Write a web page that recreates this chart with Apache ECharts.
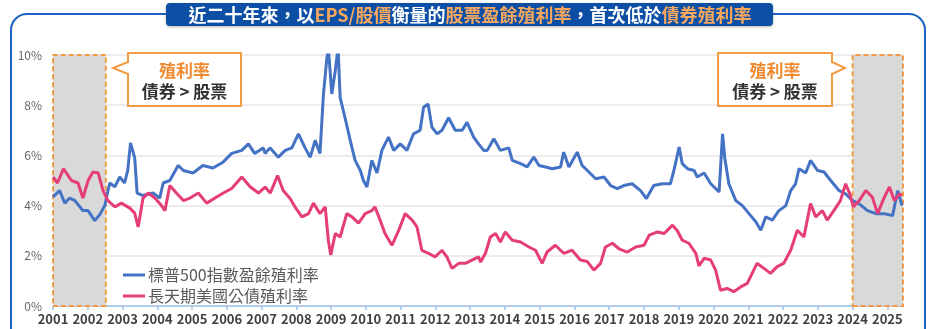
<!DOCTYPE html>
<html>
<head>
<meta charset="utf-8">
<script src="https://cdn.jsdelivr.net/npm/echarts@6/dist/echarts.min.js"></script>
<style>
html,body{margin:0;padding:0;background:#fff;}
#chart{width:936px;height:329px;}
</style>
</head>
<body>
<div id="chart"></div>
<script>
// ---- data ----
var yearTicks = [2001,2002,2003,2004,2005,2006,2007,2008,2009,2010,2011,2012,2013,2014,2015,2016,2017,2018,2019,2020,2021,2022,2023,2024,2025];
var yTicks = [0,2,4,6,8,10];

var epsName = '標普500指數盈餘殖利率';
var bondName = '長天期美國公債殖利率';

var epsDates = [2001.00,2001.19,2001.34,2001.48,2001.63,2001.86,2002.01,2002.20,2002.35,2002.49,2002.63,2002.78,2002.92,2003.06,2003.15,2003.23,2003.35,2003.42,2003.59,2003.88,2004.07,2004.17,2004.36,2004.60,2004.75,2005.03,2005.31,2005.60,2005.89,2006.14,2006.43,2006.62,2006.80,2007.05,2007.10,2007.24,2007.48,2007.68,2007.87,2008.06,2008.25,2008.40,2008.54,2008.68,2008.78,2008.87,2008.92,2009.02,2009.12,2009.20,2009.26,2009.40,2009.55,2009.69,2009.84,2009.93,2010.03,2010.17,2010.32,2010.46,2010.65,2010.80,2010.99,2011.18,2011.37,2011.56,2011.66,2011.79,2011.90,2012.05,2012.19,2012.38,2012.57,2012.77,2012.91,2013.10,2013.24,2013.39,2013.49,2013.68,2013.87,2014.11,2014.21,2014.45,2014.64,2014.83,2014.98,2015.17,2015.36,2015.60,2015.69,2015.84,2016.08,2016.22,2016.37,2016.61,2016.85,2017.04,2017.23,2017.42,2017.66,2017.90,2018.07,2018.28,2018.52,2018.76,2018.86,2019.01,2019.10,2019.25,2019.44,2019.53,2019.73,2019.92,2020.16,2020.26,2020.32,2020.44,2020.64,2020.83,2021.02,2021.22,2021.36,2021.50,2021.69,2021.88,2022.08,2022.22,2022.36,2022.46,2022.65,2022.79,2022.99,2023.18,2023.37,2023.61,2023.80,2024.00,2024.19,2024.43,2024.67,2024.91,2025.15,2025.30,2025.42];
var epsYield = [4.35,4.6,4.1,4.3,4.2,3.8,3.8,3.4,3.65,4.0,4.9,4.75,5.14,4.9,5.4,6.5,5.9,4.5,4.4,4.5,4.3,4.9,5.0,5.6,5.4,5.3,5.6,5.5,5.73,6.08,6.2,6.46,6.08,6.3,6.08,6.3,5.93,6.2,6.3,6.86,6.3,5.93,6.6,6.08,8.45,9.77,10.3,8.45,9.38,10.3,8.3,7.5,6.6,5.8,5.4,5.0,4.74,5.8,5.3,6.2,6.73,6.2,6.46,6.2,6.86,7.0,7.92,8.05,7.12,6.86,7.0,7.5,7.0,7.0,7.32,6.73,6.46,6.2,6.2,6.66,6.2,6.3,5.8,5.67,5.54,5.93,5.6,5.54,5.47,5.54,6.13,5.54,6.13,5.6,5.4,5.07,5.14,4.8,4.68,4.8,4.87,4.6,4.28,4.8,4.87,4.87,5.4,6.33,5.67,5.47,5.4,5.14,5.3,4.87,4.54,6.86,5.93,4.87,4.2,4.0,3.68,3.35,3.02,3.55,3.42,3.8,4.0,4.6,4.87,5.47,5.3,5.8,5.4,5.34,5.0,4.6,4.47,4.2,4.07,3.8,3.68,3.68,3.6,4.6,4.0];

var bondDates = [2001.00,2001.13,2001.30,2001.53,2001.72,2001.86,2002.01,2002.15,2002.30,2002.44,2002.58,2002.78,2002.97,2003.21,2003.35,2003.45,2003.59,2003.74,2003.93,2004.12,2004.22,2004.36,2004.55,2004.75,2004.94,2005.18,2005.42,2005.66,2005.90,2006.14,2006.43,2006.67,2006.91,2007.10,2007.25,2007.46,2007.62,2007.82,2007.96,2008.16,2008.35,2008.49,2008.68,2008.83,2008.92,2008.99,2009.12,2009.26,2009.45,2009.60,2009.79,2009.98,2010.17,2010.26,2010.41,2010.55,2010.75,2010.94,2011.13,2011.33,2011.47,2011.61,2011.80,2011.99,2012.19,2012.33,2012.48,2012.67,2012.86,2013.05,2013.24,2013.30,2013.44,2013.58,2013.73,2013.87,2014.01,2014.21,2014.45,2014.69,2014.88,2015.07,2015.21,2015.45,2015.69,2015.93,2016.17,2016.37,2016.56,2016.75,2016.89,2017.09,2017.28,2017.52,2017.76,2018.00,2018.15,2018.39,2018.58,2018.82,2018.96,2019.10,2019.29,2019.49,2019.58,2019.73,2019.92,2020.06,2020.20,2020.39,2020.58,2020.78,2020.97,2021.11,2021.25,2021.45,2021.64,2021.83,2022.02,2022.22,2022.41,2022.60,2022.79,2022.94,2023.13,2023.27,2023.46,2023.65,2023.80,2023.92,2024.02,2024.19,2024.38,2024.57,2024.72,2024.91,2025.06,2025.20,2025.35,2025.42];
var bondYield = [5.14,4.9,5.47,5.0,4.9,4.3,5.0,5.34,5.3,4.6,4.2,3.95,4.1,3.9,3.7,3.15,4.3,4.5,4.3,4.0,3.8,4.8,4.5,4.2,4.3,4.5,4.1,4.3,4.5,4.68,5.14,4.75,4.5,4.74,4.5,5.2,4.6,4.28,3.95,3.55,3.68,4.1,3.68,3.95,2.62,2.03,2.89,2.75,3.68,3.55,3.3,3.68,3.8,3.95,3.42,2.89,2.42,3.0,3.68,3.42,3.15,2.22,2.1,1.96,2.22,1.96,1.5,1.7,1.7,1.83,1.96,1.75,2.1,2.75,2.89,2.55,2.95,2.62,2.55,2.35,2.22,1.7,2.15,2.42,2.1,2.22,1.83,1.77,1.43,1.7,2.35,2.5,2.28,2.15,2.35,2.42,2.82,2.95,2.89,3.22,3.0,2.62,2.5,2.1,1.6,1.9,1.83,1.43,0.63,0.7,0.57,0.76,0.9,1.3,1.7,1.5,1.3,1.57,1.7,2.22,3.02,2.75,4.08,3.55,3.8,3.42,3.8,4.2,4.87,4.47,3.95,4.2,4.6,4.33,3.68,4.33,4.74,4.2,4.47,4.4];

// shaded periods where bond yield > earnings yield
var shadeStart = [2001.0, 2024.0];
var shadeEnd = [2002.52, 2025.45];

var xMin = 2001, xMax = 2025.45;

// ---- build ----
function pairs(xs, ys){ return xs.map(function(x,i){ return [x, ys[i]]; }); }

var chart = echarts.init(document.getElementById('chart'), null, {renderer:'canvas'});
var FONT = '"Noto Sans CJK TC", "Noto Sans", sans-serif';
var ORANGE = '#F39A45';

function callout(pts, cx){
  return [
    {type:'polygon', z:50, shape:{points:pts}, style:{fill:'#fff', stroke:ORANGE, lineWidth:2}},
    {type:'text', z:51, x:cx, y:71, style:{text:'殖利率', fill:'#F08A30', font:'bold 17px '+FONT, align:'center', verticalAlign:'middle'}},
    {type:'text', z:51, x:cx, y:92, style:{text:'債券 > 股票', fill:'#333', font:'bold 17px '+FONT, align:'center', verticalAlign:'middle'}}
  ];
}

var graphics = [
  {type:'rect', z:1, shape:{x:11, y:14, width:914, height:360, r:16}, style:{fill:null, stroke:'#1C63C4', lineWidth:2}},
  {type:'rect', z:2, shape:{x:166, y:3, width:607, height:23, r:4}, style:{fill:'#0C4FA5', shadowBlur:3, shadowColor:'rgba(0,0,0,0.3)', shadowOffsetY:1}},
  {type:'text', z:3, x:470, y:15, style:{
    text:'{w|近二十年來，以}{o|EPS/股價}{w|衡量的}{o|股票盈餘殖利率}{w|，首次低於}{o|債券殖利率}',
    align:'center', verticalAlign:'middle',
    rich:{
      w:{fill:'#fff', font:'bold 18px '+FONT},
      o:{fill:'#F7A85E', font:'bold 18px '+FONT}
    }
  }}
].concat(
  callout([[128,53],[241,53],[241,106],[128,106],[128,74],[113,68],[128,62]], 184.5),
  callout([[718,53],[832,53],[832,62],[845,68],[832,74],[832,106],[718,106]], 775)
);

var option = {
  animation:false,
  backgroundColor:'#fff',
  textStyle:{fontFamily:FONT},
  grid:{left:53, right:33, top:55, bottom:23, containLabel:false},
  legend:{
    orient:'vertical', left:118, top:262, itemGap:5,
    icon:'rect', itemWidth:22, itemHeight:3,
    textStyle:{fontSize:16, color:'#595959', padding:[0,0,0,-2]},
    data:[epsName, bondName]
  },
  xAxis:{
    type:'value', min:xMin, max:xMax, interval:1,
    axisLine:{show:true, lineStyle:{color:'#9DC3E6', width:1.5}},
    axisTick:{show:true, length:4, lineStyle:{color:'#9DC3E6', width:1.5}, customValues:yearTicks},
    axisLabel:{customValues:yearTicks, fontSize:13, fontWeight:'bold', color:'#404040', margin:7, formatter:function(v){return String(v);}},
    splitLine:{show:false}
  },
  yAxis:{
    type:'value', min:yTicks[0], max:yTicks[yTicks.length-1], interval:2,
    axisLine:{show:false}, axisTick:{show:false},
    axisLabel:{fontSize:12, color:'#666', margin:11, formatter:function(v){return v+'%';}},
    splitLine:{lineStyle:{color:'#E6E6E6', width:1.5}}
  },
  series:[
    {
      name:epsName, type:'line', data:pairs(epsDates, epsYield),
      showSymbol:false, symbol:'none', clip:true,
      lineStyle:{color:'#4472C4', width:3}, itemStyle:{color:'#4472C4'},
      z:3,
      markArea:{
        silent:true,
        itemStyle:{color:'#D9D9D9', borderColor:ORANGE, borderWidth:2, borderType:[5,3]},
        data: shadeStart.map(function(s,i){ return [{xAxis:s, yAxis:0},{xAxis:shadeEnd[i], yAxis:10}]; })
      }
    },
    {
      name:bondName, type:'line', data:pairs(bondDates, bondYield),
      showSymbol:false, symbol:'none', clip:true,
      lineStyle:{color:'#E43D78', width:3}, itemStyle:{color:'#E43D78'},
      z:4
    }
  ],
  graphic:graphics
};
chart.setOption(option);
</script>
</body>
</html>
